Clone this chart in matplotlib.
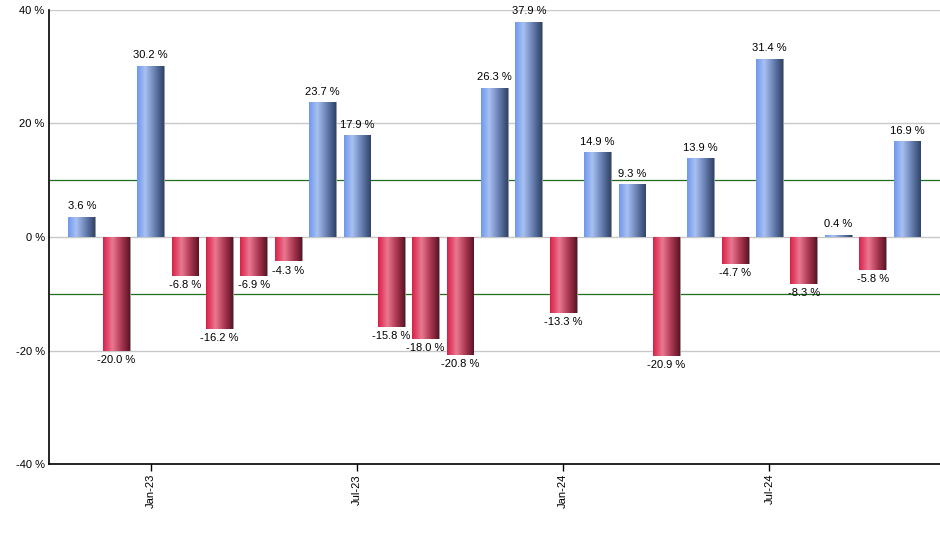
import numpy as np
import matplotlib
matplotlib.use("Agg")
from matplotlib import pyplot as plt
from matplotlib.colors import LinearSegmentedColormap
from matplotlib.patches import Rectangle

# monthly returns, Nov-22 .. Nov-24
months = ["Nov-22", "Dec-22", "Jan-23", "Feb-23", "Mar-23", "Apr-23", "May-23",
          "Jun-23", "Jul-23", "Aug-23", "Sep-23", "Oct-23", "Nov-23", "Dec-23",
          "Jan-24", "Feb-24", "Mar-24", "Apr-24", "May-24", "Jun-24", "Jul-24",
          "Aug-24", "Sep-24", "Oct-24", "Nov-24"]
returns = [3.6, -20.0, 30.2, -6.8, -16.2, -6.9, -4.3, 23.7, 17.9, -15.8, -18.0,
           -20.8, 26.3, 37.9, -13.3, 14.9, 9.3, -20.9, 13.9, -4.7, 31.4, -8.3,
           0.4, -5.8, 16.9]
tick_months = ["Jan-23", "Jul-23", "Jan-24", "Jul-24"]
y_ticks = [-40, -20, 0, 20, 40]
ref_lines = [-10, 10]

blue = LinearSegmentedColormap.from_list(
    "b", [(0, "#6f98ee"), (0.3, "#a8c0f2"), (0.65, "#6a82b4"), (1, "#2f4468")])
red = LinearSegmentedColormap.from_list(
    "r", [(0, "#d92148"), (0.35, "#ea7891"), (0.7, "#a83650"), (1, "#5e1425")])

fig = plt.figure(figsize=(9.4, 5.5), dpi=100)
ax = fig.add_axes([0.052, 0.156, 0.948, 0.826])

x = np.arange(len(returns))
w = 0.78
grad = np.linspace(0, 1, 64).reshape(1, -1)

for yv in y_ticks[1:]:
    ax.axhline(yv, color="#c8c8c8", lw=1, zorder=0)
for yv in ref_lines:
    ax.axhline(yv, color="#1e6e1e", lw=0.9, zorder=0.5)

bars = ax.bar(x, returns, width=w, color="none", edgecolor="none", zorder=2)
for xi, v, b in zip(x, returns, bars):
    lo, hi = min(0, v), max(0, v)
    # thin shadow on the right side
    ax.add_patch(Rectangle((xi - w / 2 + 0.03, lo), w, hi - lo,
                           color="#9a9a9a", zorder=1.5, lw=0))
    im = ax.imshow(grad, cmap=blue if v >= 0 else red, aspect="auto",
                   extent=(xi - w / 2, xi + w / 2, lo, hi), zorder=2,
                   interpolation="bilinear")
    im.set_clip_path(b)
    if v >= 0:
        ax.annotate(f"{v:.1f} %", (xi, v), xytext=(0, 4), textcoords="offset points",
                    ha="center", va="bottom", fontsize=8, family="Liberation Sans")
    else:
        ax.annotate(f"{v:.1f} %", (xi, v), xytext=(0, -3), textcoords="offset points",
                    ha="center", va="top", fontsize=8, family="Liberation Sans")

ax.set_xlim(-0.96, 24.96)
ax.set_ylim(-40, 40)
ax.set_yticks(y_ticks)
ax.set_yticklabels([f"{t} %" for t in y_ticks], fontsize=8, family="Liberation Sans")
ax.tick_params(axis="y", length=0, pad=3)
ax.set_xticks([months.index(m) for m in tick_months])
ax.set_xticklabels(tick_months, rotation=90, fontsize=8, family="Liberation Sans")
ax.tick_params(axis="x", length=5, width=1, pad=2)

ax.spines["top"].set_visible(False)
ax.spines["right"].set_visible(False)
ax.spines["left"].set_linewidth(1.2)
ax.spines["bottom"].set_linewidth(1.2)

fig.savefig("out.png", dpi=100)
